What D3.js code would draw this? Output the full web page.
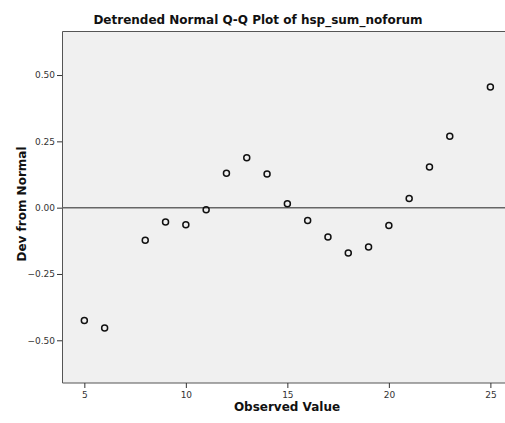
<!DOCTYPE html>
<html>
<head>
<meta charset="utf-8">
<script src="https://cdn.jsdelivr.net/npm/d3@7"></script>
<style>
  body { margin: 0; background: #fff; }
  svg { display: block; }
</style>
</head>
<body>
<svg id="chart" width="505" height="423"></svg>
<script>
const observed = [5, 6, 8, 9, 10, 11, 12, 13, 14, 15, 16, 17, 18, 19, 20, 21, 22, 23, 25];
const devFromNormal = [-0.425, -0.454, -0.123, -0.054, -0.064, -0.008, 0.130, 0.188, 0.127, 0.015,
    -0.048, -0.111, -0.171, -0.148, -0.067, 0.035, 0.153, 0.269, 0.455];
const xTicks = [5, 10, 15, 20, 25];
const yTicks = [-0.5, -0.25, 0, 0.25, 0.5];

const svg = d3.select('#chart');
const MARGIN = { top: 31, right: 0, bottom: 40, left: 62 };
const W = 505 - MARGIN.left - MARGIN.right;
const H = 423 - MARGIN.top - MARGIN.bottom;
const font = '"DejaVu Sans", "Liberation Sans", sans-serif';

const x = d3.scaleLinear().domain([3.9, 25.72]).range([0, W]);
const y = d3.scaleLinear().domain([-0.661, 0.666]).range([H, 0]);

const g = svg.append('g').attr('transform', `translate(${MARGIN.left},${MARGIN.top})`);

g.append('rect')
    .attr('width', W).attr('height', H)
    .attr('fill', '#f0f0f0');

// frame: top, left, bottom
g.append('path')
    .attr('d', `M${W},0.5H0.5V${H}H${W}`)
    .attr('fill', 'none')
    .attr('stroke', '#555')
    .attr('stroke-width', 1);

// zero reference line
g.append('line')
    .attr('x1', 0).attr('x2', W)
    .attr('y1', y(0)).attr('y2', y(0))
    .attr('stroke', '#666')
    .attr('stroke-width', 1.5);

const yAxis = g.append('g')
    .call(d3.axisLeft(y).tickValues(yTicks).tickFormat(d3.format('.2f')).tickSize(5).tickPadding(2));
yAxis.select('.domain').remove();
yAxis.selectAll('line').attr('stroke', '#333');
yAxis.selectAll('text').style('font-family', font).style('font-size', '9px').attr('fill', '#333');

const xAxis = g.append('g')
    .attr('transform', `translate(0,${H})`)
    .call(d3.axisBottom(x).tickValues(xTicks).tickSize(5).tickPadding(4));
xAxis.select('.domain').remove();
xAxis.selectAll('line').attr('stroke', '#333');
xAxis.selectAll('text').style('font-family', font).style('font-size', '9px').attr('fill', '#333');

g.selectAll('circle.pt')
    .data(observed.map((v, i) => ({ x: v, y: devFromNormal[i] })))
    .join('circle')
    .attr('class', 'pt')
    .attr('cx', d => x(d.x))
    .attr('cy', d => y(d.y))
    .attr('r', 3)
    .attr('fill', 'none')
    .attr('stroke', '#111')
    .attr('stroke-width', 1.5);

svg.append('text')
    .attr('x', 258).attr('y', 24)
    .attr('text-anchor', 'middle')
    .style('font-family', font).style('font-size', '12px').style('font-weight', 'bold')
    .attr('fill', '#111')
    .text('Detrended Normal Q-Q Plot of hsp_sum_noforum');

svg.append('text')
    .attr('x', 287).attr('y', 411)
    .attr('text-anchor', 'middle')
    .style('font-family', font).style('font-size', '12px').style('font-weight', 'bold')
    .attr('fill', '#111')
    .text('Observed Value');

svg.append('text')
    .attr('transform', 'translate(26,204) rotate(-90)')
    .attr('text-anchor', 'middle')
    .style('font-family', font).style('font-size', '12px').style('font-weight', 'bold')
    .attr('fill', '#111')
    .text('Dev from Normal');
</script>
</body>
</html>
